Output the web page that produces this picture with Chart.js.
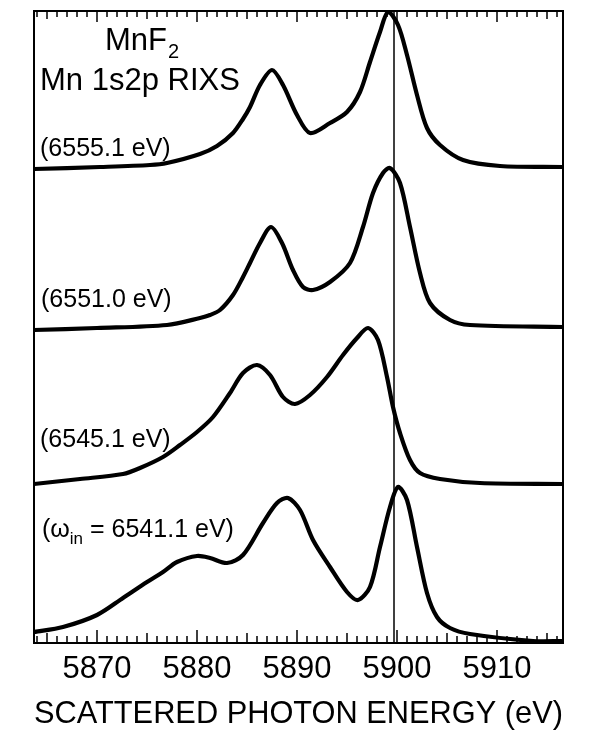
<!DOCTYPE html>
<html>
<head>
<meta charset="utf-8">
<script src="https://cdn.jsdelivr.net/npm/chart.js@4.4.0/dist/chart.umd.min.js"></script>
<style>
  html, body { margin: 0; padding: 0; background: #fff; }
</style>
</head>
<body>
<canvas id="rixs" width="592" height="740"></canvas>
<script>
// Espectros RIXS Mn 1s2p de MnF2 (energía en eV, intensidad arbitraria)
const energy6555 = [5863.7, 5870.3, 5875.3, 5877.0, 5880.3, 5882.0, 5883.6, 5884.6, 5885.3, 5886.3, 5887.5, 5888.6, 5890.0, 5891.3, 5893.3, 5895.0, 5896.3, 5897.3, 5898.3, 5899.1, 5900.1, 5901.0, 5902.0, 5903.0, 5904.3, 5906.6, 5910.3, 5916.6];
const inten6555  = [0.00, 0.02, 0.04, 0.06, 0.15, 0.23, 0.36, 0.50, 0.62, 0.84, 0.99, 0.84, 0.54, 0.36, 0.46, 0.57, 0.77, 1.07, 1.37, 1.57, 1.44, 1.14, 0.74, 0.41, 0.24, 0.09, 0.03, 0.02];

const energy6551 = [5863.7, 5870.0, 5877.0, 5880.3, 5881.3, 5882.3, 5883.6, 5884.6, 5885.3, 5886.3, 5887.4, 5888.5, 5889.6, 5890.6, 5891.6, 5893.3, 5895.3, 5896.6, 5897.6, 5898.6, 5899.3, 5900.3, 5901.3, 5902.3, 5903.3, 5905.3, 5907.3, 5916.6];
const inten6551  = [0.00, 0.02, 0.05, 0.12, 0.15, 0.20, 0.35, 0.53, 0.67, 0.87, 1.03, 0.87, 0.60, 0.43, 0.40, 0.48, 0.67, 1.03, 1.37, 1.57, 1.62, 1.47, 1.03, 0.57, 0.27, 0.10, 0.05, 0.03];

const energy6545 = [5863.7, 5868.3, 5872.6, 5874.3, 5876.6, 5878.3, 5880.0, 5881.6, 5883.3, 5884.6, 5886.0, 5887.3, 5888.6, 5889.8, 5891.3, 5893.0, 5894.6, 5896.0, 5897.1, 5898.1, 5899.0, 5899.6, 5900.3, 5901.3, 5902.3, 5904.3, 5908.3, 5916.6];
const inten6545  = [0.00, 0.05, 0.10, 0.16, 0.27, 0.39, 0.52, 0.67, 0.91, 1.11, 1.19, 1.09, 0.87, 0.80, 0.89, 1.07, 1.29, 1.46, 1.56, 1.44, 1.07, 0.77, 0.51, 0.24, 0.11, 0.05, 0.01, 0.00];

const energy6541 = [5863.7, 5866.6, 5870.0, 5872.6, 5875.0, 5876.6, 5878.0, 5880.0, 5881.3, 5883.0, 5884.6, 5886.6, 5888.0, 5889.1, 5890.3, 5891.6, 5893.3, 5895.0, 5896.1, 5897.3, 5898.3, 5899.3, 5900.1, 5901.0, 5902.0, 5903.0, 5904.0, 5905.3, 5907.3, 5913.6, 5916.6];
const inten6541  = [0.11, 0.16, 0.28, 0.45, 0.61, 0.71, 0.81, 0.87, 0.85, 0.80, 0.88, 1.20, 1.40, 1.45, 1.33, 1.03, 0.76, 0.51, 0.43, 0.56, 0.96, 1.36, 1.56, 1.43, 0.96, 0.50, 0.26, 0.15, 0.09, 0.02, 0.02];

// desplazamiento vertical de cada espectro
const offsets = [4.74, 3.13, 1.59, 0];
const xTicks = [5870, 5880, 5890, 5900, 5910];
const xMin = 5863.7;
const xMax = 5916.6;
const yMax = 6.32;
const refEnergy = 5899.7; // línea vertical de referencia

const spectra = [
  [energy6555, inten6555],
  [energy6551, inten6551],
  [energy6545, inten6545],
  [energy6541, inten6541]
];

const datasets = spectra.map((s, k) => ({
  data: s[0].map((e, i) => ({ x: e, y: s[1][i] + offsets[k] })),
  borderColor: '#000',
  borderWidth: 4.2,
  pointRadius: 0,
  showLine: true,
  tension: 0.3
}));

datasets.push({
  data: [{ x: refEnergy, y: 0 }, { x: refEnergy, y: yMax }],
  borderColor: '#000',
  borderWidth: 1.5,
  pointRadius: 0,
  showLine: true
});

// marco, marcas de escala y rótulos del panel
const framePlugin = {
  id: 'frame',
  afterDatasetsDraw(chart) {
    const { ctx, chartArea: a, scales: { x } } = chart;
    ctx.save();
    ctx.strokeStyle = '#000';
    ctx.lineWidth = 2;
    ctx.strokeRect(a.left, a.top, a.right - a.left, a.bottom - a.top);
    ctx.lineWidth = 1.5;
    for (let v = Math.ceil(xMin); v <= xMax; v++) {
      const px = x.getPixelForValue(v);
      const lb = v % 10 === 0 ? 13 : v % 5 === 0 ? 10 : 7;
      const lt = v % 10 === 0 ? 11 : v % 5 === 0 ? 8 : 6;
      ctx.beginPath();
      ctx.moveTo(px, a.bottom); ctx.lineTo(px, a.bottom - lb);
      ctx.moveTo(px, a.top); ctx.lineTo(px, a.top + lt);
      ctx.stroke();
    }

    ctx.fillStyle = '#000';
    ctx.textBaseline = 'alphabetic';
    ctx.font = '31px "Liberation Sans", Arial, sans-serif';
    ctx.fillText('MnF', 105, 50);
    const w = ctx.measureText('MnF').width;
    ctx.font = '20px "Liberation Sans", Arial, sans-serif';
    ctx.fillText('2', 105 + w + 1, 58);
    ctx.font = '31px "Liberation Sans", Arial, sans-serif';
    ctx.fillText('Mn 1s2p RIXS', 40, 90);

    ctx.font = '25px "Liberation Sans", Arial, sans-serif';
    ctx.fillText('(6555.1 eV)', 40, 156);
    ctx.fillText('(6551.0 eV)', 41, 307);
    ctx.fillText('(6545.1 eV)', 40, 447);
    let cx = 42;
    ctx.fillText('(\u03c9', cx, 537);
    cx += ctx.measureText('(\u03c9').width;
    ctx.font = '17px "Liberation Sans", Arial, sans-serif';
    ctx.fillText('in', cx, 544);
    cx += ctx.measureText('in').width;
    ctx.font = '25px "Liberation Sans", Arial, sans-serif';
    ctx.fillText(' = 6541.1 eV)', cx, 537);
    ctx.restore();
  }
};

new Chart(document.getElementById('rixs'), {
  type: 'scatter',
  data: { datasets: datasets },
  options: {
    responsive: false,
    animation: false,
    layout: { padding: { left: 34, right: 29, top: 11, bottom: 0 } },
    plugins: { legend: { display: false }, tooltip: { enabled: false } },
    scales: {
      x: {
        type: 'linear',
        min: xMin,
        max: xMax,
        afterBuildTicks: s => { s.ticks = xTicks.map(v => ({ value: v })); },
        afterFit: s => { s.height = 97; },
        grid: { display: false, drawTicks: false },
        border: { display: false },
        ticks: {
          color: '#000',
          padding: 8,
          maxRotation: 0,
          font: { family: '"Liberation Sans", Arial, sans-serif', size: 31 },
          callback: v => String(v)
        },
        title: {
          display: true,
          text: 'SCATTERED PHOTON ENERGY (eV)',
          color: '#000',
          padding: { top: 0, bottom: 7 },
          font: { family: '"Liberation Sans", Arial, sans-serif', size: 32 }
        }
      },
      y: { display: false, min: 0, max: yMax }
    }
  },
  plugins: [framePlugin]
});
</script>
</body>
</html>
